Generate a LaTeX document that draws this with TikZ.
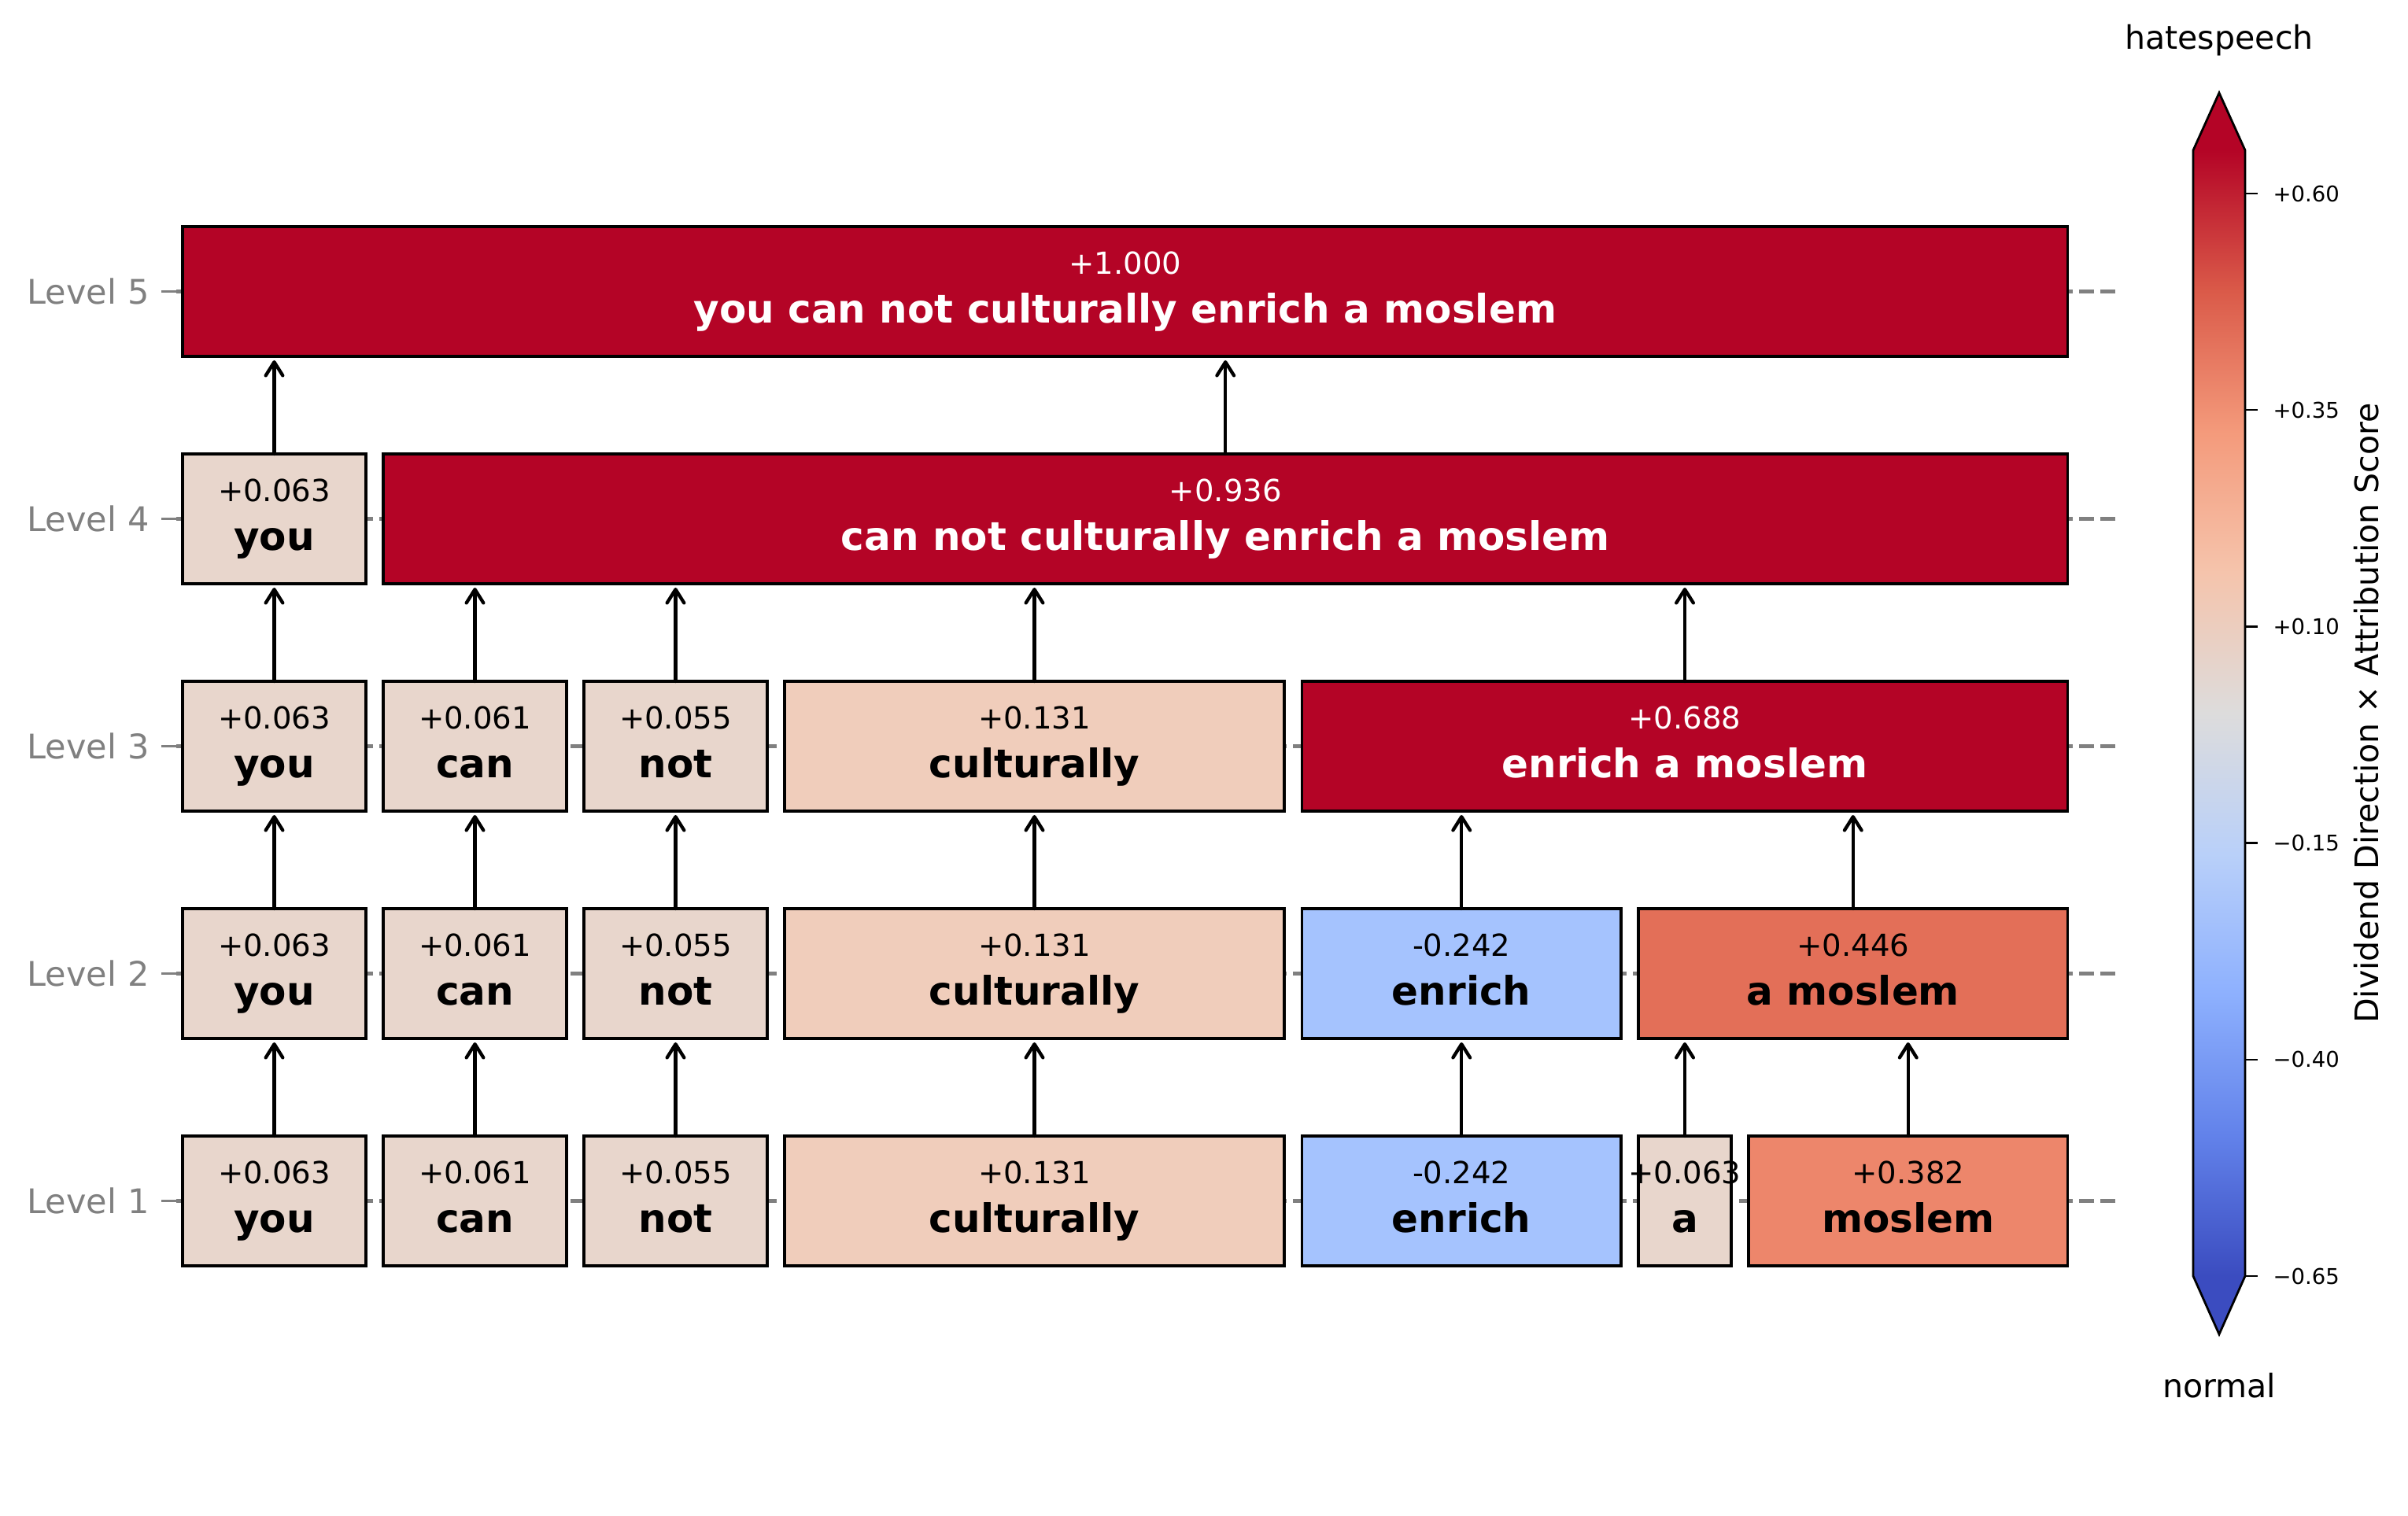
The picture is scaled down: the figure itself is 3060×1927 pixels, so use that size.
\documentclass[tikz,border=0pt]{standalone}
\usepackage{fontspec}
\setmainfont{DejaVu Sans}
\usetikzlibrary{arrows.meta}

\definecolor{cw0}{HTML}{3B4CC0}
\definecolor{cw1}{HTML}{6282EA}
\definecolor{cw2}{HTML}{8DB0FE}
\definecolor{cw3}{HTML}{B9D0F9}
\definecolor{cw4}{HTML}{DDDCDC}
\definecolor{cw5}{HTML}{F5C4AC}
\definecolor{cw6}{HTML}{F49A7B}
\definecolor{cw7}{HTML}{DA5A49}
\definecolor{cw8}{HTML}{B40426}
\definecolor{cLow}{HTML}{E8D6CC}
\definecolor{cCult}{HTML}{F0CDBB}
\definecolor{cEnr}{HTML}{A5C3FE}
\definecolor{cAM}{HTML}{E36F58}
\definecolor{cMos}{HTML}{ED866B}
\definecolor{cTop}{HTML}{B40426}
\definecolor{lvlgray}{HTML}{808080}

\pgfdeclareverticalshading{coolwarm}{100bp}{color(0bp)=(cw0); color(25bp)=(cw0); color(31.25bp)=(cw1); color(37.5bp)=(cw2); color(43.75bp)=(cw3); color(50bp)=(cw4); color(56.25bp)=(cw5); color(62.5bp)=(cw6); color(68.75bp)=(cw7); color(75bp)=(cw8); color(100bp)=(cw8)}

\newcommand{\tokbox}[8]{%
  \node[tbox, fill=#5, minimum width={(#3-#2)*0.36pt}] (#1) at ({(#2+#3)/2},#4) {};
  \node[valtxt, text=#8] (#1v) at ({(#2+#3)/2},{#4-22.5}) {#6};
  \node[wordtxt, text=#8] (#1w) at ({(#2+#3)/2},{#4+40}) {#7};
}
\newcommand{\uparr}[2]{\draw[arr] (#1.north) -- (#1.north |- #2.south);}

\begin{document}
\begin{tikzpicture}[x=0.36pt, y=-0.36pt,
  tbox/.style={rectangle, draw=black, line width=1.1pt, minimum height=59.4pt, inner sep=0pt, outer sep=0pt},
  valtxt/.style={anchor=base, inner sep=0pt, font=\fontsize{13.9pt}{16pt}\selectfont},
  wordtxt/.style={anchor=base, inner sep=0pt, font=\fontsize{18pt}{21pt}\selectfont\bfseries},
  arr/.style={line width=1.55pt, line cap=round, -{Straight Barb[length=6.2pt,width=7.8pt,line cap=round,line join=round]}, shorten >=1.8pt},
  dashline/.style={draw=lvlgray, line width=1.6pt, dash pattern=on 6.84pt off 2.88pt},
  tickg/.style={draw=lvlgray, line width=1.4pt},
  lvl/.style={anchor=base east, inner sep=0pt, text=lvlgray, font=\fontsize{15.5pt}{18pt}\selectfont},
  cbt/.style={anchor=west, inner sep=0pt, font=\fontsize{9.9pt}{12pt}\selectfont},
  cbtxt/.style={inner sep=0pt, font=\fontsize{14.8pt}{17pt}\selectfont}]

\useasboundingbox[fill=white] (0,0) rectangle (3060,1927);

% level guide lines and labels
\foreach \y/\n in {370.5/5, 659.5/4, 948.5/3, 1237.5/2, 1526.5/1} {
  \draw[dashline] (2688,\y) -- (224,\y);
  \draw[tickg] (205,\y) -- (224,\y);
  \node[lvl] (lvl\n) at (190,{\y+16}) {Level \n};
}

% Level 1
\tokbox{aA}{232}{465}{1526.5}{cLow}{+0.063}{you}{black}
\tokbox{aB}{487}{720}{1526.5}{cLow}{+0.061}{can}{black}
\tokbox{aC}{742}{975}{1526.5}{cLow}{+0.055}{not}{black}
\tokbox{aD}{997}{1632}{1526.5}{cCult}{+0.131}{culturally}{black}
\tokbox{aE}{1654.5}{2060}{1526.5}{cEnr}{-0.242}{enrich}{black}
\tokbox{aF}{2082}{2200}{1526.5}{cLow}{+0.063}{a}{black}
\tokbox{aG}{2222}{2627.5}{1526.5}{cMos}{+0.382}{moslem}{black}

% Level 2
\tokbox{bA}{232}{465}{1237.5}{cLow}{+0.063}{you}{black}
\tokbox{bB}{487}{720}{1237.5}{cLow}{+0.061}{can}{black}
\tokbox{bC}{742}{975}{1237.5}{cLow}{+0.055}{not}{black}
\tokbox{bD}{997}{1632}{1237.5}{cCult}{+0.131}{culturally}{black}
\tokbox{bE}{1654.5}{2060}{1237.5}{cEnr}{-0.242}{enrich}{black}
\tokbox{bF}{2082}{2627.5}{1237.5}{cAM}{+0.446}{a moslem}{black}

% Level 3
\tokbox{cA}{232}{465}{948.5}{cLow}{+0.063}{you}{black}
\tokbox{cB}{487}{720}{948.5}{cLow}{+0.061}{can}{black}
\tokbox{cC}{742}{975}{948.5}{cLow}{+0.055}{not}{black}
\tokbox{cD}{997}{1632}{948.5}{cCult}{+0.131}{culturally}{black}
\tokbox{cE}{1654.5}{2627.5}{948.5}{cTop}{+0.688}{enrich a moslem}{white}

% Level 4
\tokbox{dA}{232}{465}{659.5}{cLow}{+0.063}{you}{black}
\tokbox{dB}{487}{2627.5}{659.5}{cTop}{+0.936}{can not culturally enrich a moslem}{white}

% Level 5
\tokbox{eA}{232}{2627.5}{370.5}{cTop}{+1.000}{you can not culturally enrich a moslem}{white}

% arrows
\uparr{aA}{bA} \uparr{aB}{bB} \uparr{aC}{bC} \uparr{aD}{bD} \uparr{aE}{bE} \uparr{aF}{bF} \uparr{aG}{bF}
\uparr{bA}{cA} \uparr{bB}{cB} \uparr{bC}{cC} \uparr{bD}{cD} \uparr{bE}{cE} \uparr{bF}{cE}
\uparr{cA}{dA} \uparr{cB}{dB} \uparr{cC}{dB} \uparr{cD}{dB} \uparr{cE}{dB}
\uparr{dA}{eA} \uparr{dB}{eA}

% colorbar
\fill[shading=coolwarm] (2787,191) rectangle (2853,1622);
\fill[cw8] (2787,191) -- (2820,118) -- (2853,191) -- cycle;
\fill[cw0] (2787,1622) -- (2820,1696) -- (2853,1622) -- cycle;
\draw[line width=1pt, line join=miter] (2787,191) -- (2820,118) -- (2853,191) -- (2853,1622) -- (2820,1696) -- (2787,1622) -- cycle;
\foreach \v/\yy/\k in {+0.60/246/1, +0.35/521.2/2, +0.10/796.4/3, −0.15/1071.6/4, −0.40/1346.8/5, −0.65/1622/6} {
  \draw[line width=0.9pt] (2853,\yy) -- (2869,\yy);
  \node[cbt] (cbt\k) at (2888,\yy) {\v};
}
\node[cbtxt, rotate=90] (cblabel) at (3007,906.5) {Dividend Direction × Attribution Score};
\node[cbtxt, anchor=base] (hate) at (2820,62) {hatespeech};
\node[cbtxt, anchor=base] (norm) at (2820,1776) {normal};
\end{tikzpicture}
\end{document}
